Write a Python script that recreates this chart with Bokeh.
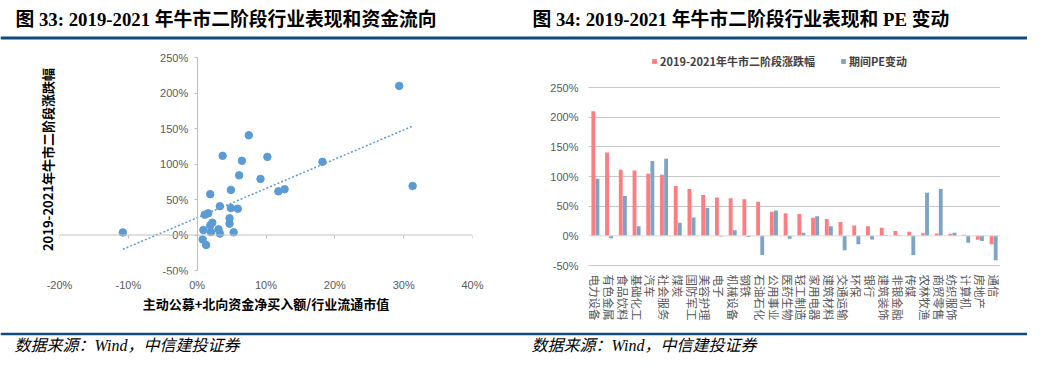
import numpy as np
from bokeh.plotting import figure
from bokeh.models import (ColumnDataSource, Range1d, FactorRange, LinearAxis, CategoricalAxis,
                          FixedTicker, PrintfTickFormatter, Span, Label, Legend, LegendItem)
from bokeh.transform import dodge
from bokeh.layouts import column, row
from bokeh.embed import file_html
from bokeh.resources import INLINE

# ---------------- data ----------------
industries = ["电力设备", "有色金属", "食品饮料", "基础化工", "汽车", "社会服务", "煤炭", "国防军工",
              "美容护理", "电子", "机械设备", "钢铁", "石油石化", "公用事业", "医药生物", "轻工制造",
              "家用电器", "建筑材料", "交通运输", "环保", "银行", "建筑装饰", "非银金融", "传媒",
              "农林牧渔", "商贸零售", "纺织服饰", "计算机", "房地产", "通信"]
# 2019-2021 bull market stage-2 performance (%)
perf = [210, 140.5, 111.5, 110, 104.5, 103, 84, 79, 69, 64.5, 63.5, 61.5, 57.5, 40.5, 38,
        37, 30.5, 28.5, 23.5, 17.4, 16, 13.5, 8, 7, 4.2, 3.8, 3.6, 2, -6.5, -14]
# PE change over the period (%)
pe_change = [96, -4, 67, 16, 126, 130, 22, 31, 47, -1, 9.5, -2, -32.5, 42.5, -5,
             5, 33, 16, -24.5, -14, -6, 1.5, 1, -32.5, 72.5, 79, 5, -11.5, -8.5, -41]
# active funds + northbound net buying / free-float market cap (%)
net_buy = [29.35, 7.5, 3.7, 10.2, 6.5, 18.2, 6.1, 9.2, 31.3, 12.7, 4.9, 11.8, 1.9, 3.3, 4.9,
           5.9, 1.6, 1.1, 4.7, 2.2, 4.7, 1.9, 3.1, 0.9, 2.0, 5.3, -10.8, 3.3, 0.8, 1.3]

title_left = "图 33: 2019-2021 年牛市二阶段行业表现和资金流向"
title_right = "图 34: 2019-2021 年牛市二阶段行业表现和 PE 变动"
source_text = "数据来源：Wind，中信建投证券"
scatter_xlabel = "主动公募+北向资金净买入额/行业流通市值"
scatter_ylabel = "2019-2021年牛市二阶段涨跌幅"
legend_labels = ["2019-2021年牛市二阶段涨跌幅", "期间PE变动"]
scatter_xticks = [-20, -10, 0, 10, 20, 30, 40]
pct_yticks = [-50, 0, 50, 100, 150, 200, 250]

# ---------------- styles ----------------
RULE = "#0F4C7D"
DOT = "#5B9BD5"
RED = "#FF7C80"
BLUE = "#7FA3C3"
TICK_TXT = "#595959"
AXIS_GRAY = "#BFBFBF"
LATIN = "'Liberation Sans'"
CJK = "'Noto Sans CJK SC'"
SERIF = "'Liberation Serif', 'Noto Sans CJK SC'"

# shared borders of the two plots in the middle row (the row aligns them)
ROW_H = 290
TOP_B = 4
BOT_B = 56
FRAME_H = ROW_H - TOP_B - BOT_B


def bare(fig):
    fig.grid.visible = False
    return fig


# ---------------- header ----------------
hdr = figure(width=1027, height=40, x_range=Range1d(0, 1027), y_range=Range1d(0, 40),
             min_border=0, x_axis_location=None, y_axis_location=None,
             toolbar_location=None, output_backend="svg", outline_line_color=None)
bare(hdr)
hdr.add_layout(Span(location=2.5, dimension="width", line_color=RULE, line_width=3))
for xx, t in [(15, title_left), (532, title_right)]:
    hdr.add_layout(Label(x=xx, y=21.5, text=t, text_baseline="middle", text_align="left",
                         text_font=SERIF, text_font_style="bold", text_font_size="18.8px",
                         text_color="#000000"))

# ---------------- scatter ----------------
sx0, sx1 = scatter_xticks[0], scatter_xticks[-1]
sy0, sy1 = pct_yticks[0], pct_yticks[-1]
s_scale = 213 / (sy1 - sy0)          # px per %
sp = figure(width=520, height=ROW_H, min_border_left=59, min_border_right=48,
            min_border_top=TOP_B, min_border_bottom=BOT_B,
            x_range=Range1d(sx0, sx1),
            y_range=Range1d(sy0 - 4 / s_scale, sy1 + 13 / s_scale),
            x_axis_location=None, y_axis_location=None,
            toolbar_location=None, output_backend="svg", outline_line_color=None)
bare(sp)

yfix = LinearAxis(fixed_location=0, bounds=(sy0, sy1), ticker=FixedTicker(ticks=pct_yticks),
                  formatter=PrintfTickFormatter(format="%d%%"),
                  axis_line_color=AXIS_GRAY, major_tick_line_color=AXIS_GRAY,
                  major_tick_out=3, major_tick_in=0, minor_tick_line_color=None,
                  major_label_standoff=6, major_label_text_font_size="11px",
                  major_label_text_color=TICK_TXT, major_label_text_font=LATIN)
sp.add_layout(yfix, "left")
ylab = LinearAxis(ticker=FixedTicker(ticks=[100]), formatter=PrintfTickFormatter(format=""),
                  axis_line_color=None,
                  major_tick_line_color=None, minor_tick_line_color=None,
                  major_tick_out=0, major_label_standoff=0,
                  axis_label=scatter_ylabel, axis_label_standoff=3,
                  axis_label_text_font_size="13px", axis_label_text_font_style="bold",
                  axis_label_text_color="#000000", axis_label_text_font=CJK)
sp.add_layout(ylab, "left")

# x axis line at y = 0 plus small ticks (no labels)
sp.add_layout(Span(location=0, dimension="width", line_color=AXIS_GRAY, line_width=1))
xfix = LinearAxis(fixed_location=0, ticker=FixedTicker(ticks=scatter_xticks),
                  formatter=PrintfTickFormatter(format=""),
                  major_label_text_font_size="0px", major_label_standoff=0,
                  axis_line_color=None, major_tick_line_color=AXIS_GRAY,
                  major_tick_out=3, major_tick_in=0, minor_tick_line_color=None)
xlab = LinearAxis(ticker=FixedTicker(ticks=scatter_xticks),
                  formatter=PrintfTickFormatter(format="%d%%"),
                  axis_line_color=None, major_tick_line_color=None, minor_tick_line_color=None,
                  major_tick_out=0, major_label_standoff=4,
                  major_label_text_font_size="11px", major_label_text_color=TICK_TXT,
                  major_label_text_font=LATIN,
                  axis_label=scatter_xlabel, axis_label_standoff=0,
                  axis_label_text_font_size="13px", axis_label_text_font_style="bold",
                  axis_label_text_color="#000000", axis_label_text_font=CJK)
sp.add_layout(xlab, "below")
sp.add_layout(xfix, "below")

ssrc = ColumnDataSource(dict(x=net_buy, y=perf))
sp.scatter("x", "y", source=ssrc, size=7.5, fill_color=DOT, line_color=DOT)
k, b = np.polyfit(np.array(net_buy), np.array(perf), 1)
tx = np.array([min(net_buy), max(net_buy)])
sp.line(tx, k * tx + b, line_color=DOT, line_width=1.5, line_dash="2 2")

# ---------------- bars ----------------
b_scale = 178 / (sy1 - sy0)          # px per %
bp = figure(x_range=FactorRange(factors=industries),
            y_range=Range1d(sy0 - 9 / b_scale, sy1 + 43 / b_scale),
            width=507, height=ROW_H, min_border_left=68, min_border_right=27,
            min_border_top=TOP_B, min_border_bottom=BOT_B,
            x_axis_location=None, y_axis_location=None,
            toolbar_location=None, output_backend="svg", outline_line_color=None)
bp.xgrid.visible = False
bp.ygrid.ticker = FixedTicker(ticks=[t for t in pct_yticks if t != 0])
bp.ygrid.grid_line_color = "#8C8C8C"
bp.ygrid.grid_line_dash = "1 1"
bp.ygrid.grid_line_width = 1

bya = LinearAxis(ticker=FixedTicker(ticks=pct_yticks), formatter=PrintfTickFormatter(format="%d%%"),
                 axis_line_color=None, major_tick_line_color=None, minor_tick_line_color=None,
                 major_tick_out=0, major_label_standoff=10,
                 major_label_text_font_size="11px", major_label_text_color=TICK_TXT,
                 major_label_text_font=LATIN)
bp.add_layout(bya, "left")
bxa = CategoricalAxis(axis_line_color=None, major_tick_line_color=None, minor_tick_line_color=None,
                      major_tick_out=0, major_label_standoff=0, major_label_orientation="vertical",
                      major_label_text_font_size="11.5px", major_label_text_color=TICK_TXT,
                      major_label_text_font=CJK)
bp.add_layout(bxa, "below")
bp.add_layout(Span(location=0, dimension="width", line_color="#D9D9D9", line_width=1))

bsrc = ColumnDataSource(dict(ind=industries, perf=perf, pe=pe_change))
r1 = bp.vbar(x=dodge("ind", -0.15, range=bp.x_range), top="perf", bottom=0, width=0.28,
             source=bsrc, fill_color=RED, line_color=None)
r2 = bp.vbar(x=dodge("ind", 0.15, range=bp.x_range), top="pe", bottom=0, width=0.28,
             source=bsrc, fill_color=BLUE, line_color=None)

legend = Legend(items=[LegendItem(label=legend_labels[0], renderers=[r1]),
                       LegendItem(label=legend_labels[1], renderers=[r2])],
                orientation="horizontal", location=(63, FRAME_H - 25), margin=0, padding=0,
                glyph_width=6, glyph_height=6, label_height=12, label_standoff=3, spacing=25,
                label_text_font_size="11px", label_text_font_style="bold",
                label_text_color="#404040", label_text_font=CJK,
                border_line_color=None, background_fill_alpha=0)
bp.add_layout(legend)

# ---------------- footer ----------------
ftr = figure(width=1027, height=24, x_range=Range1d(0, 1027), y_range=Range1d(0, 24),
             min_border=0, x_axis_location=None, y_axis_location=None,
             toolbar_location=None, output_backend="svg", outline_line_color=None)
bare(ftr)
ftr.add_layout(Span(location=20.5, dimension="width", line_color=RULE, line_width=2.5))
for xx in [14, 531]:
    ftr.add_layout(Label(x=xx, y=9, text=source_text, text_baseline="middle", text_align="left",
                         text_font=SERIF, text_font_style="italic", text_font_size="16px",
                         text_color="#000000"))

layout = column(hdr, row(sp, bp), ftr)
open("out.html", "w").write(file_html(layout, INLINE))
